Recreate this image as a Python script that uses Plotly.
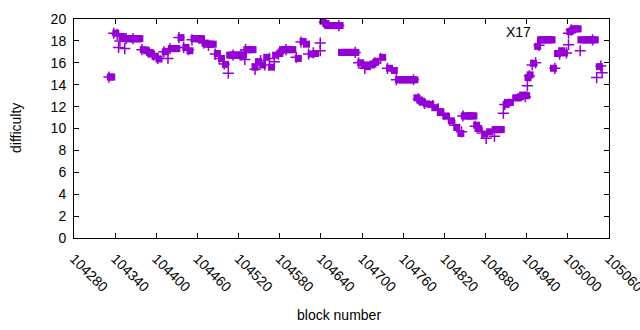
import plotly.graph_objects as go

# Filled-square series (block number, difficulty)
sq_block = [104333, 104335, 104341, 104350, 104354,
            104359, 104362, 104365, 104368, 104371, 104374, 104376,
            104381, 104386, 104390, 104393, 104398, 104404, 104413,
            104422, 104425, 104428, 104430, 104436, 104443, 104449,
            104455, 104458, 104461, 104464, 104466,
            104471, 104474, 104477, 104480, 104483,
            104489, 104495, 104501,
            104507, 104510, 104513, 104516, 104519, 104522, 104525, 104527,
            104532, 104535, 104538, 104541,
            104544, 104549, 104555, 104561, 104568, 104574, 104580,
            104584, 104587, 104590, 104593, 104596, 104599,
            104607, 104614, 104619, 104626, 104632,
            104643, 104647, 104650, 104653, 104656, 104659, 104662, 104665, 104668,
            104670, 104673, 104676, 104679, 104682, 104685, 104688, 104691,
            104698, 104703, 104708, 104712, 104716, 104720, 104730, 104740, 104747,
            104753, 104756, 104759, 104762, 104765, 104768, 104771, 104774, 104777,
            104780, 104784, 104788, 104794, 104800, 104806, 104814, 104822, 104830,
            104838, 104844,
            104849, 104852, 104855, 104858, 104861, 104863,
            104867, 104870, 104879, 104886,
            104894, 104897, 104900, 104903,
            104910, 104913, 104916,
            104925, 104928, 104931, 104934, 104937, 104940,
            104942, 104945, 104950, 104956,
            104960, 104963, 104966, 104969, 104972, 104975, 104977,
            104979, 104985, 104991, 104995, 105003, 105007,
            105009, 105012, 105015,
            105019, 105022, 105025, 105028, 105031, 105034, 105037, 105040,
            105046]
sq_diff = [14.7, 14.7, 18.7, 18.4, 18.2,
           18.2, 18.2, 18.2, 18.2, 18.2, 18.2, 18.2,
           17.2, 17.1, 16.95, 16.8, 16.6, 16.35, 17.0,
           17.3, 17.3, 17.3, 17.3, 18.3, 17.4, 17.1,
           18.2, 18.2, 18.2, 18.2, 18.2,
           17.8, 17.7, 17.7, 17.7, 17.7,
           16.85, 16.4, 15.85,
           16.7, 16.7, 16.7, 16.7, 16.7, 16.7, 16.7, 16.7,
           17.2, 17.2, 17.2, 17.2,
           15.6, 16.1, 15.8, 16.5, 15.6, 16.7, 16.85,
           17.2, 17.2, 17.2, 17.2, 17.2, 17.2,
           16.4, 17.95, 17.7, 16.8, 16.85,
           19.8, 19.6, 19.4, 19.4, 19.4, 19.4, 19.4, 19.4, 19.4,
           16.95, 16.95, 16.95, 16.95, 16.95, 16.95, 16.95, 16.95,
           16.0, 15.8, 15.65, 15.8, 15.9, 16.05, 16.5, 15.5, 15.3,
           14.45, 14.45, 14.45, 14.45, 14.45, 14.45, 14.45, 14.45, 14.45,
           12.8, 12.6, 12.4, 12.25, 12.2, 11.9, 11.45, 11.15, 10.7,
           10.1, 9.55,
           11.15, 11.15, 11.15, 11.15, 11.15, 11.15,
           10.3, 10.0, 9.5, 9.7,
           9.9, 9.9, 9.9, 9.9,
           12.2, 12.35, 12.4,
           12.8, 12.8, 12.9, 13.05, 13.0, 13.0,
           14.65, 14.9, 15.95, 17.5,
           18.1, 18.1, 18.1, 18.1, 18.1, 18.1, 18.1,
           15.5, 16.85, 17.1, 16.9, 18.85, 19.0,
           19.1, 19.1, 19.1,
           18.1, 18.1, 18.1, 18.1, 18.1, 18.1, 18.1, 18.1,
           15.65]

# Plus-sign series (block number, difficulty)
pl_block = [104331, 104338, 104343, 104345, 104347, 104354, 104356, 104366, 104379,
            104388, 104396, 104402, 104411, 104417, 104420, 104433, 104440,
            104447, 104452, 104469, 104476, 104486, 104492, 104499, 104505,
            104512, 104524, 104529, 104530, 104544, 104547, 104552, 104558,
            104565, 104572, 104578, 104589, 104604, 104611, 104622, 104629,
            104639, 104639, 104645, 104666, 104690, 104695, 104704, 104718,
            104727, 104737, 104750, 104775, 104782, 104791, 104803, 104811,
            104819, 104827, 104835, 104845, 104847, 104865, 104875, 104881,
            104893, 104906, 104908, 104920, 104938, 104941, 104944, 104948,
            104953, 104958, 104981, 104988, 104998, 105001, 105001, 105005,
            105018, 105036, 105042, 105048, 105050]
pl_diff = [14.7, 18.7, 18.6, 17.4, 18.0, 17.3, 18.2, 18.2, 17.2,
           17.0, 16.7, 16.4, 17.0, 16.4, 17.3, 18.3, 17.4,
           17.2, 18.1, 17.8, 17.6, 16.8, 16.4, 15.9, 15.05,
           16.7, 16.7, 16.3, 17.2, 15.4, 15.9, 16.2, 15.8,
           16.4, 16.1, 16.8, 17.2, 16.5, 17.9, 16.8, 16.9,
           17.8, 17.1, 19.7, 19.4, 16.95, 16.0, 15.5, 16.0,
           16.4, 15.5, 14.45, 14.45, 12.7, 12.3, 12.1, 11.8,
           11.3, 10.9, 10.3, 9.7, 11.15, 10.2, 9.6, 9.1,
           9.3, 11.4, 12.2, 12.6, 12.9, 13.9, 14.8, 15.8,
           16.0, 17.6, 15.5, 16.8, 16.9, 17.65, 18.7, 19.0,
           17.1, 18.1, 14.65, 15.7, 15.1]

x_ticks = list(range(104280, 105061, 60))
x_labels = [str(v) for v in x_ticks]
y_ticks = list(range(0, 21, 2))
y_labels = [str(v) for v in y_ticks]

color = "#9400d3"
font = "Liberation Sans, Arial, sans-serif"
FS = 14

L, R, T, B = 74, 31, 19, 92
W, H = 640, 330
PW, PH = W - L - R, H - T - B

fig = go.Figure()
fig.add_trace(go.Scatter(x=pl_block, y=pl_diff, mode="markers",
                         marker=dict(symbol="cross-thin", size=8, color=color,
                                     line=dict(color=color, width=1.5)),
                         showlegend=False, hoverinfo="skip"))
fig.add_trace(go.Scatter(x=sq_block, y=sq_diff, mode="markers",
                         marker=dict(symbol="square", size=7, color=color,
                                     line=dict(width=0)),
                         showlegend=False))

axis_common = dict(showline=True, linecolor="black", linewidth=1, mirror="ticks",
                   ticks="inside", ticklen=5, tickcolor="black", showgrid=False,
                   zeroline=False, automargin=False,
                   tickfont=dict(family=font, size=FS, color="black"))

fig.update_layout(
    width=W, height=H,
    margin=dict(l=L, r=R, t=T, b=B),
    paper_bgcolor="white", plot_bgcolor="white",
    font=dict(family=font, size=FS, color="black"),
    xaxis=dict(range=[104280, 105060], tickvals=x_ticks, ticktext=x_labels,
               tickangle=45, ticklabelstandoff=6, ticklabeloverflow="allow",
               **axis_common),
    yaxis=dict(range=[0, 20], tickvals=y_ticks, ticktext=y_labels,
               ticklabelstandoff=4, **axis_common),
    annotations=[
        dict(text="X17", x=(533 - L) / PW, y=(238 - 32) / PH,
             xref="paper", yref="paper", xanchor="right", yanchor="middle",
             showarrow=False, font=dict(family=font, size=FS)),
        dict(text="difficulty", x=(16 - L) / PW, y=(238 - 128) / PH, textangle=-90,
             xref="paper", yref="paper", xanchor="center", yanchor="middle",
             showarrow=False, font=dict(family=font, size=FS)),
        dict(text="block number", x=(339 - L) / PW, y=(238 - 315) / PH,
             xref="paper", yref="paper", xanchor="center", yanchor="middle",
             showarrow=False, font=dict(family=font, size=FS)),
    ],
)

fig.write_html("out.html", config={"displayModeBar": False},
               post_script="document.body.style.margin='0';document.body.style.overflow='hidden';")
